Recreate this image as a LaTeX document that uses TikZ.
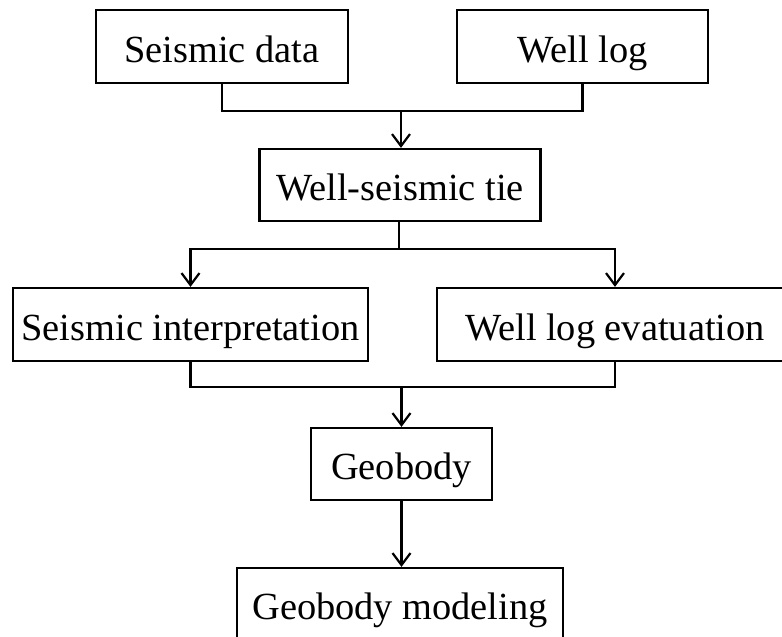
\documentclass[tikz,border=0pt]{standalone}
\usepackage{fontspec}
\setmainfont{Liberation Serif}
\usetikzlibrary{arrows.meta}
\begin{document}
\begin{tikzpicture}[x=1pt,y=-1pt,
  box/.style={draw, line width=2.2pt, rectangle, inner sep=0pt, text height=31pt, text depth=0pt, font=\fontsize{38.4}{46}\selectfont},
  conn/.style={line width=2.2pt},
  arr/.style={conn, -{Straight Barb[length=12pt,width=18pt,line width=2.2pt]}}]
\useasboundingbox (0,0) rectangle (782,637);
\fill[white] (0,0) rectangle (782,637);
\clip (0,0) rectangle (782,637);
\node[box, minimum width=252pt, minimum height=73pt] (sd) at (222,46.5) {Seismic data};
\node[box, minimum width=251pt, minimum height=73pt] (wl) at (582.5,46.5) {Well log};
\node[box, minimum width=281pt, minimum height=72pt] (tie) at (400,185) {Well-seismic tie};
\node[box, minimum width=355pt, minimum height=73pt] (si) at (190.5,324.5) {Seismic interpretation};
\node[box, minimum width=356pt, minimum height=73pt] (we) at (615,324.5) {Well log evatuation};
\node[box, minimum width=181pt, minimum height=72pt] (gb) at (401.5,464) {Geobody};
\node[box, minimum width=326pt, minimum height=72pt] (gm) at (400,604) {Geobody modeling};
\coordinate (j1) at (401,111);
\coordinate (j2) at (399,249);
\coordinate (j3) at (401.5,387);
\draw[conn] (sd.south) |- (j1);
\draw[conn] (wl.south) |- (j1);
\draw[arr] (j1) -- (tie.north -| j1);
\draw[conn] (tie.south -| j2) -- (j2);
\draw[arr] (j2) -| (si.north);
\draw[arr] (j2) -| (we.north);
\draw[conn] (si.south) |- (j3);
\draw[conn] (we.south) |- (j3);
\draw[arr] (j3) -- (gb.north);
\draw[arr] (gb.south) -- (gm.north -| gb.south);
\end{tikzpicture}
\end{document}
